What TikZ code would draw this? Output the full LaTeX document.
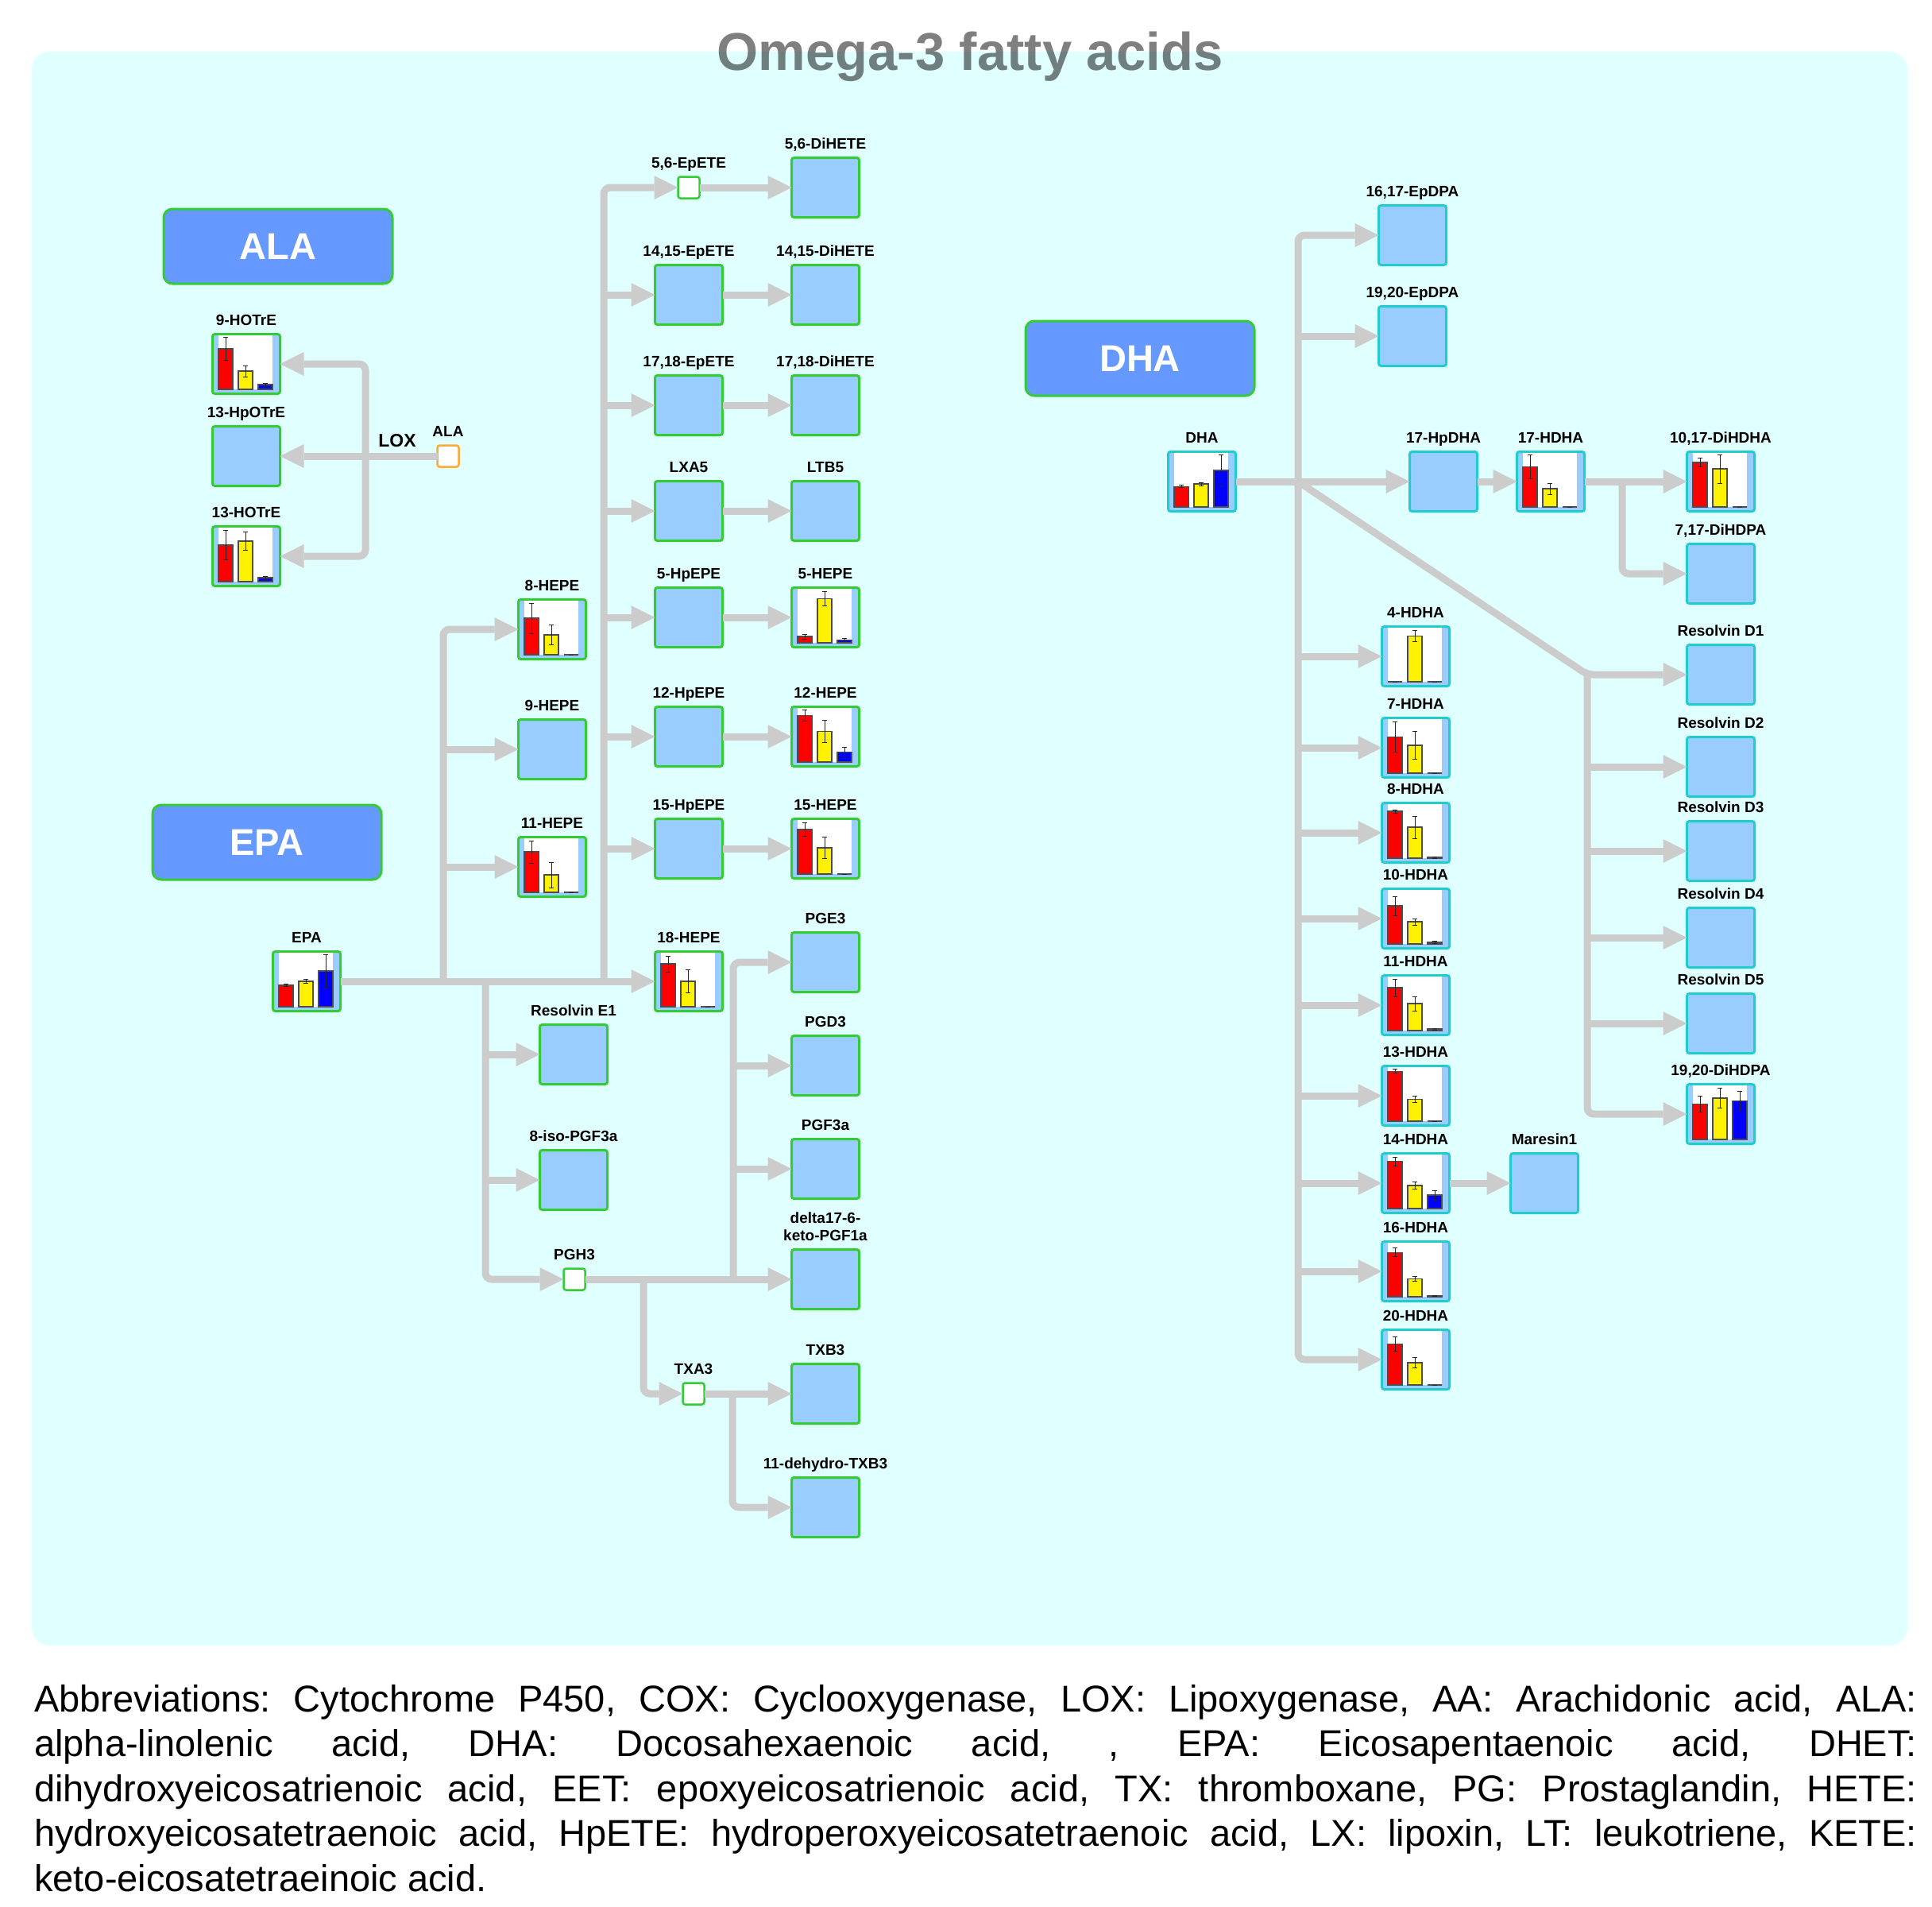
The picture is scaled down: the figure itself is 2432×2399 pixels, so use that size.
\documentclass[tikz,border=0pt]{standalone}
\usepackage{fontspec}
\setmainfont{Liberation Sans}
\usetikzlibrary{arrows.meta}

\definecolor{panelcyan}{RGB}{224,255,255}
\definecolor{boxblue}{RGB}{153,204,255}
\definecolor{headblue}{RGB}{102,153,255}
\definecolor{epagreen}{RGB}{51,204,51}
\definecolor{dhacyan}{RGB}{34,204,204}
\definecolor{flowgray}{RGB}{204,204,204}
\definecolor{alaorange}{RGB}{255,170,51}

\tikzset{
	met/.style={rectangle,draw=epagreen,fill=boxblue,line width=3pt,rounded corners=3pt,
		minimum width=85pt,minimum height=75pt,inner sep=0pt,outer sep=0pt},
	dmet/.style={met,draw=dhacyan},
	smallbox/.style={rectangle,draw=epagreen,fill=white,line width=2.5pt,rounded corners=3pt,
		minimum width=27pt,minimum height=27pt,inner sep=0pt,outer sep=0pt},
	head/.style={rectangle,draw=epagreen,fill=headblue,line width=3pt,rounded corners=11pt,
		minimum width=288pt,minimum height=94pt,text=white,
		font=\fontsize{47}{50}\selectfont\bfseries},
	lab/.style={inner sep=0pt,text depth=0pt,align=center,
		font=\fontsize{19}{22}\selectfont\bfseries},
	every label/.style={lab},
	label distance=11pt,
	flow/.style={draw=flowgray,line width=9pt,rounded corners=8pt,
		-{Triangle[length=30pt,width=30pt,line width=0pt]}},
	ttl/.style={anchor=base,inner sep=0pt,text=black,text opacity=0.5,
		font=\fontsize{67}{70}\selectfont\bfseries},
	abbr/.style={anchor=base west,inner sep=0pt,text width=2370pt,align=justify,
		font=\fontsize{47}{56.5}\selectfont}
}

\newcommand{\onebar}[4]{%
	\draw[black!70,line width=1.2pt,fill=#4] (#1,0) rectangle ++(18,-#2);
	\draw[black!85,line width=1pt] (#1+9,-#2+#3) -- (#1+9,-#2-#3)
		(#1+6,-#2+#3) -- (#1+12,-#2+#3) (#1+6,-#2-#3) -- (#1+12,-#2-#3);}
\newcommand{\minichart}[7]{%
	\begin{scope}[shift={(#1.south west)},yshift=5.5pt]
		\fill[white] (7.5,0) rectangle (75.5,-68);
		\onebar{7.5}{#2}{#3}{red}
		\onebar{32.5}{#4}{#5}{yellow}
		\onebar{57.5}{#6}{#7}{blue}
	\end{scope}}

\begin{document}
\begin{tikzpicture}[x=1pt,y=-1pt]
		
			\useasboundingbox (0,0) rectangle (2432,2399);
			\fill[panelcyan,rounded corners=22pt] (40,65) rectangle (2401,2071);
			\node[ttl] (title) at (1221,88) {Omega-3 fatty acids};
			
			\node[head] (alahead) at (350,310) {ALA};
			\node[met,label=above:9-HOTrE] (hotre9) at (310,458) {};
			\node[met,label=above:13-HpOTrE] (hpotre13) at (310,574) {};
			\node[met,label=above:13-HOTrE] (hotre13) at (310,700) {};
			\node[smallbox,draw=alaorange,label=above:ALA] (alas) at (564,574) {};
			\node[lab,anchor=base,font=\fontsize{23}{26}\selectfont\bfseries] (lox) at (500,562) {LOX};
			\coordinate (laj) at (460,574);
			
			\node[head] (epahead) at (336,1060) {EPA};
			\node[met,label=above:EPA] (epa) at (386,1235) {};
			\node[met,label=above:8-HEPE] (hepe8) at (695,792) {};
			\node[met,label=above:9-HEPE] (hepe9) at (695,943) {};
			\node[met,label=above:11-HEPE] (hepe11) at (695,1091) {};
			\node[smallbox,label={above:{5,6-EpETE}}] (ep56) at (867,236) {};
			\node[met,label={above:{5,6-DiHETE}}] (dih56) at (1039,236) {};
			\node[met,label={above:{14,15-EpETE}}] (ep1415) at (867,371) {};
			\node[met,label={above:{14,15-DiHETE}}] (dih1415) at (1039,371) {};
			\node[met,label={above:{17,18-EpETE}}] (ep1718) at (867,510) {};
			\node[met,label={above:{17,18-DiHETE}}] (dih1718) at (1039,510) {};
			\node[met,label=above:LXA5] (lxa5) at (867,643) {};
			\node[met,label=above:LTB5] (ltb5) at (1039,643) {};
			\node[met,label=above:5-HpEPE] (hpepe5) at (867,777) {};
			\node[met,label=above:5-HEPE] (hepe5) at (1039,777) {};
			\node[met,label=above:12-HpEPE] (hpepe12) at (867,927) {};
			\node[met,label=above:12-HEPE] (hepe12) at (1039,927) {};
			\node[met,label=above:15-HpEPE] (hpepe15) at (867,1068) {};
			\node[met,label=above:15-HEPE] (hepe15) at (1039,1068) {};
			\node[met,label=above:18-HEPE] (hepe18) at (867,1235) {};
			\node[met,label=above:Resolvin E1] (rve1) at (722,1327) {};
			\node[met,label=above:8-iso-PGF3a] (isopgf) at (722,1485) {};
			\node[smallbox,label=above:PGH3] (pgh3) at (723,1610) {};
			\node[met,label=above:PGE3] (pge3) at (1039,1211) {};
			\node[met,label=above:PGD3] (pgd3) at (1039,1341) {};
			\node[met,label=above:PGF3a] (pgf3a) at (1039,1471) {};
			\node[met,label={above:{delta17-6-\\keto-PGF1a}}] (dketo) at (1039,1610) {};
			\node[smallbox,label=above:TXA3] (txa3) at (873,1754) {};
			\node[met,label=above:TXB3] (txb3) at (1039,1754) {};
			\node[met,label=above:11-dehydro-TXB3] (dhtxb3) at (1039,1897) {};
			\coordinate (ja) at (558,1235);
			\coordinate (jb) at (611,1235);
			\coordinate (jc) at (760,1235);
			\coordinate (jd) at (810,1610);
			\coordinate (je) at (923,1610);
			\coordinate (jf) at (922,1754);
			
			\node[head] (dhahead) at (1435,451) {DHA};
			\node[dmet,label=above:DHA] (dha) at (1513,606) {};
			\node[dmet,label={above:{16,17-EpDPA}}] (ep1617) at (1778,296) {};
			\node[dmet,label={above:{19,20-EpDPA}}] (ep1920) at (1778,423) {};
			\node[dmet,label=above:17-HpDHA] (hpdha17) at (1817,606) {};
			\node[dmet,label=above:17-HDHA] (hdha17) at (1952,606) {};
			\node[dmet,label={above:{10,17-DiHDHA}}] (dihdha) at (2166,606) {};
			\node[dmet,label={above:{7,17-DiHDPA}}] (dihdpa717) at (2166,722) {};
			\node[dmet,label=above:Resolvin D1] (rvd1) at (2166,849) {};
			\node[dmet,label=above:Resolvin D2] (rvd2) at (2166,965) {};
			\node[dmet,label=above:Resolvin D3] (rvd3) at (2166,1071) {};
			\node[dmet,label=above:Resolvin D4] (rvd4) at (2166,1180) {};
			\node[dmet,label=above:Resolvin D5] (rvd5) at (2166,1288) {};
			\node[dmet,label={above:{19,20-DiHDPA}}] (dihdpa1920) at (2166,1402) {};
			\node[dmet,label=above:4-HDHA] (hdha4) at (1782,826) {};
			\node[dmet,label=above:7-HDHA] (hdha7) at (1782,941) {};
			\node[dmet,label=above:8-HDHA] (hdha8) at (1782,1048) {};
			\node[dmet,label=above:10-HDHA] (hdha10) at (1782,1156) {};
			\node[dmet,label=above:11-HDHA] (hdha11) at (1782,1265) {};
			\node[dmet,label=above:13-HDHA] (hdha13) at (1782,1379) {};
			\node[dmet,label=above:14-HDHA] (hdha14) at (1782,1489) {};
			\node[dmet,label=above:16-HDHA] (hdha16) at (1782,1600) {};
			\node[dmet,label=above:20-HDHA] (hdha20) at (1782,1711) {};
			\node[dmet,label=above:Maresin1] (mar1) at (1944,1489) {};
			\coordinate (ka) at (1634,606);
			\coordinate (kb) at (2042,606);
			\coordinate (kc) at (1998,849);
			
			\path[draw,flow] (alas.west) -- (hpotre13.east);
			\path[draw,flow] (laj) |- (hotre9.east);
			\path[draw,flow] (laj) |- (hotre13.east);
			
			\path[draw,flow] (epa.east) -- (hepe18.west);
			\path[draw,flow] (ja) |- (hepe8.west);
			\path[draw,flow] (ja |- hepe9) -- (hepe9.west);
			\path[draw,flow] (ja |- hepe11) -- (hepe11.west);
			\path[draw,flow] (jc) |- (ep56.west);
			\path[draw,flow] (jc |- ep1415) -- (ep1415.west);
			\path[draw,flow] (jc |- ep1718) -- (ep1718.west);
			\path[draw,flow] (jc |- lxa5) -- (lxa5.west);
			\path[draw,flow] (jc |- hpepe5) -- (hpepe5.west);
			\path[draw,flow] (jc |- hpepe12) -- (hpepe12.west);
			\path[draw,flow] (jc |- hpepe15) -- (hpepe15.west);
			\path[draw,flow] (ep56.east) -- (dih56.west);
			\path[draw,flow] (ep1415.east) -- (dih1415.west);
			\path[draw,flow] (ep1718.east) -- (dih1718.west);
			\path[draw,flow] (lxa5.east) -- (ltb5.west);
			\path[draw,flow] (hpepe5.east) -- (hepe5.west);
			\path[draw,flow] (hpepe12.east) -- (hepe12.west);
			\path[draw,flow] (hpepe15.east) -- (hepe15.west);
			\path[draw,flow] (jb) |- (pgh3.west);
			\path[draw,flow] (jb |- rve1) -- (rve1.west);
			\path[draw,flow] (jb |- isopgf) -- (isopgf.west);
			\path[draw,flow] (pgh3.east) -- (dketo.west);
			\path[draw,flow] (je) |- (pge3.west);
			\path[draw,flow] (je |- pgd3) -- (pgd3.west);
			\path[draw,flow] (je |- pgf3a) -- (pgf3a.west);
			\path[draw,flow] (jd) |- (txa3.west);
			\path[draw,flow] (txa3.east) -- (txb3.west);
			\path[draw,flow] (jf) |- (dhtxb3.west);
			
			\path[draw,flow] (dha.east) -- (hpdha17.west);
			\path[draw,flow] (hpdha17.east) -- (hdha17.west);
			\path[draw,flow] (hdha17.east) -- (dihdha.west);
			\path[draw,flow] (kb) |- (dihdpa717.west);
			\path[draw,flow] (ka) |- (ep1617.west);
			\path[draw,flow] (ka |- ep1920) -- (ep1920.west);
			\path[draw,flow] (ka) |- (hdha20.west);
			\path[draw,flow] (ka |- hdha4) -- (hdha4.west);
			\path[draw,flow] (ka |- hdha7) -- (hdha7.west);
			\path[draw,flow] (ka |- hdha8) -- (hdha8.west);
			\path[draw,flow] (ka |- hdha10) -- (hdha10.west);
			\path[draw,flow] (ka |- hdha11) -- (hdha11.west);
			\path[draw,flow] (ka |- hdha13) -- (hdha13.west);
			\path[draw,flow] (ka |- hdha14) -- (hdha14.west);
			\path[draw,flow] (ka |- hdha16) -- (hdha16.west);
			\path[draw,flow] (ka) -- (kc) -- (rvd1.west);
			\path[draw,flow] (kc) |- (dihdpa1920.west);
			\path[draw,flow] (kc |- rvd2) -- (rvd2.west);
			\path[draw,flow] (kc |- rvd3) -- (rvd3.west);
			\path[draw,flow] (kc |- rvd4) -- (rvd4.west);
			\path[draw,flow] (kc |- rvd5) -- (rvd5.west);
			\path[draw,flow] (hdha14.east) -- (mar1.west);
			
			\minichart{hotre9}{51}{14.5}{23}{7}{6}{2}
			\minichart{hotre13}{46}{18.5}{51}{11.7}{5}{2}
			\minichart{epa}{27}{1.5}{32}{2.5}{45}{21}
			\minichart{hepe8}{46}{19}{25}{12.5}{0}{0}
			\minichart{hepe11}{51}{14}{22}{16}{0}{0}
			\minichart{hepe5}{8}{3}{55.5}{9}{3.5}{2}
			\minichart{hepe12}{58.5}{7}{38.5}{14}{12.5}{6.5}
			\minichart{hepe15}{56}{8.5}{33}{13.5}{0}{0}
			\minichart{hepe18}{54}{10}{32}{14.5}{0}{0}
			\minichart{dha}{25.6}{1.5}{29}{2}{46}{19.5}
			\minichart{hdha17}{50.6}{14.7}{23}{7}{0}{0}
			\minichart{dihdha}{56}{5.5}{48}{18}{0}{0}
			\minichart{hdha4}{0}{0}{57.6}{6.7}{0}{0}
			\minichart{hdha7}{45.5}{19}{35}{17.5}{0}{0}
			\minichart{hdha8}{59}{2}{39}{14}{1}{1}
			\minichart{hdha10}{48}{12}{28}{4}{2}{1.5}
			\minichart{hdha11}{54}{11}{34}{9}{2}{1}
			\minichart{hdha13}{62.7}{2.5}{27.7}{4}{0}{0}
			\minichart{hdha14}{59.4}{5.5}{29}{4.5}{17}{6}
			\minichart{hdha16}{55.6}{5.5}{22.5}{3}{1}{0.5}
			\minichart{hdha20}{51.8}{9}{28}{6.7}{0}{0}
			\minichart{dihdpa1920}{44.5}{10}{52}{12.5}{48.5}{11.7}
			
			\node[abbr] (abbrev) at (43,2154) {\frenchspacing\hyphenpenalty=10000\exhyphenpenalty=10000
				Abbreviations: Cytochrome P450, COX: Cyclooxygenase, LOX: Lipoxygenase, AA: Arachidonic acid, ALA:\linebreak
				alpha-linolenic acid, DHA: Docosahexaenoic acid, , EPA: Eicosapentaenoic acid, DHET:\linebreak
				dihydroxyeicosatrienoic acid, EET: epoxyeicosatrienoic acid, TX: thromboxane, PG: Prostaglandin, HETE:\linebreak
				hydroxyeicosatetraenoic acid, HpETE: hydroperoxyeicosatetraenoic acid, LX: lipoxin, LT: leukotriene, KETE:\linebreak
				keto-eicosatetraeinoic acid.};
		
		\end{tikzpicture}
\end{document}
